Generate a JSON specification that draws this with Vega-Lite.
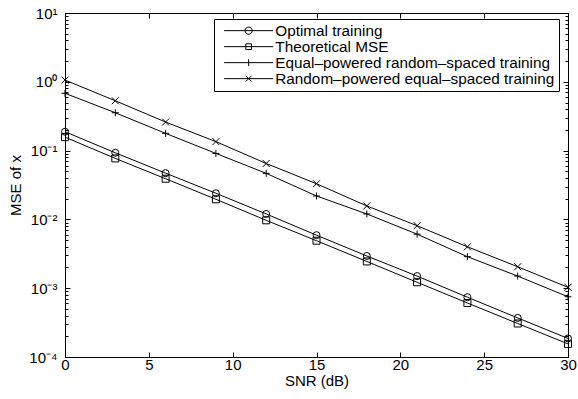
{
  "$schema": "https://vega.github.io/schema/vega-lite/v6.json",
  "width": 503,
  "height": 344,
  "autosize": {"type": "none"},
  "padding": {"left": 65, "top": 13, "right": 10, "bottom": 42},
  "background": "white",
  "config": {
    "font": "Liberation Sans",
    "view": {"stroke": "black", "strokeWidth": 1},
    "axis": {
      "grid": false,
      "domainColor": "black",
      "tickColor": "black",
      "labelColor": "black",
      "titleColor": "black",
      "labelFont": "Liberation Sans",
      "titleFont": "Liberation Sans",
      "labelFontSize": 15,
      "titleFontSize": 15,
      "titleFontWeight": "normal",
      "labelFlush": false,
      "labelOverlap": false
    },
    "legend": {
      "title": null,
      "orient": "none",
      "legendX": 149,
      "legendY": 6,
      "direction": "vertical",
      "strokeColor": "black",
      "fillColor": "white",
      "padding": 4,
      "cornerRadius": 0,
      "rowPadding": 0,
      "labelFont": "Liberation Sans",
      "labelFontSize": 15.3,
      "labelColor": "black",
      "labelLimit": 400,
      "labelOffset": 19,
      "symbolSize": 36,
      "symbolOffset": 23,
      "symbolStrokeColor": "black",
      "symbolStrokeWidth": 1,
      "symbolFillColor": "transparent"
    }
  },
  "data": {
    "values": [
      {"snr": 0, "mse": 0.188, "series": "Optimal training"},
      {"snr": 3, "mse": 0.093, "series": "Optimal training"},
      {"snr": 6, "mse": 0.047, "series": "Optimal training"},
      {"snr": 9, "mse": 0.024, "series": "Optimal training"},
      {"snr": 12, "mse": 0.012, "series": "Optimal training"},
      {"snr": 15, "mse": 0.0059, "series": "Optimal training"},
      {"snr": 18, "mse": 0.00294, "series": "Optimal training"},
      {"snr": 21, "mse": 0.0015, "series": "Optimal training"},
      {"snr": 24, "mse": 0.00074, "series": "Optimal training"},
      {"snr": 27, "mse": 0.00037, "series": "Optimal training"},
      {"snr": 30, "mse": 0.000186, "series": "Optimal training"},
      {"snr": 0, "mse": 0.157, "series": "Theoretical MSE"},
      {"snr": 3, "mse": 0.077, "series": "Theoretical MSE"},
      {"snr": 6, "mse": 0.039, "series": "Theoretical MSE"},
      {"snr": 9, "mse": 0.0196, "series": "Theoretical MSE"},
      {"snr": 12, "mse": 0.0097, "series": "Theoretical MSE"},
      {"snr": 15, "mse": 0.0049, "series": "Theoretical MSE"},
      {"snr": 18, "mse": 0.00245, "series": "Theoretical MSE"},
      {"snr": 21, "mse": 0.00122, "series": "Theoretical MSE"},
      {"snr": 24, "mse": 0.00061, "series": "Theoretical MSE"},
      {"snr": 27, "mse": 0.000307, "series": "Theoretical MSE"},
      {"snr": 30, "mse": 0.000155, "series": "Theoretical MSE"},
      {"snr": 0, "mse": 0.68, "series": "Equal–powered random–spaced training"},
      {"snr": 3, "mse": 0.355, "series": "Equal–powered random–spaced training"},
      {"snr": 6, "mse": 0.178, "series": "Equal–powered random–spaced training"},
      {"snr": 9, "mse": 0.091, "series": "Equal–powered random–spaced training"},
      {"snr": 12, "mse": 0.0467, "series": "Equal–powered random–spaced training"},
      {"snr": 15, "mse": 0.0219, "series": "Equal–powered random–spaced training"},
      {"snr": 18, "mse": 0.012, "series": "Equal–powered random–spaced training"},
      {"snr": 21, "mse": 0.0061, "series": "Equal–powered random–spaced training"},
      {"snr": 24, "mse": 0.00287, "series": "Equal–powered random–spaced training"},
      {"snr": 27, "mse": 0.0015, "series": "Equal–powered random–spaced training"},
      {"snr": 30, "mse": 0.00075, "series": "Equal–powered random–spaced training"},
      {"snr": 0, "mse": 1.06, "series": "Random–powered equal–spaced training"},
      {"snr": 3, "mse": 0.53, "series": "Random–powered equal–spaced training"},
      {"snr": 6, "mse": 0.26, "series": "Random–powered equal–spaced training"},
      {"snr": 9, "mse": 0.135, "series": "Random–powered equal–spaced training"},
      {"snr": 12, "mse": 0.065, "series": "Random–powered equal–spaced training"},
      {"snr": 15, "mse": 0.033, "series": "Random–powered equal–spaced training"},
      {"snr": 18, "mse": 0.0157, "series": "Random–powered equal–spaced training"},
      {"snr": 21, "mse": 0.0081, "series": "Random–powered equal–spaced training"},
      {"snr": 24, "mse": 0.004, "series": "Random–powered equal–spaced training"},
      {"snr": 27, "mse": 0.00205, "series": "Random–powered equal–spaced training"},
      {"snr": 30, "mse": 0.00103, "series": "Random–powered equal–spaced training"}
    ]
  },
  "resolve": {"axis": {"x": "independent", "y": "independent"}},
  "layer": [
    {
      "transform": [{"filter": {"field": "series", "equal": "Optimal training"}}],
      "mark": {"type": "line", "color": "black", "strokeWidth": 1},
      "encoding": {
        "x": {"field": "snr", "type": "quantitative", "scale": {"domain": [0, 30], "nice": false, "zero": false},
          "axis": {"orient": "bottom", "values": [0, 5, 10, 15, 20, 25, 30], "tickSize": -5, "labelPadding": 5, "title": "SNR (dB)", "titlePadding": 1}},
        "y": {"field": "mse", "type": "quantitative", "scale": {"type": "log", "domain": [0.0001, 10], "nice": false},
          "axis": {"orient": "left", "values": [0.0001, 0.001, 0.01, 0.1, 1, 10], "tickSize": -5, "labelPadding": 13, "title": "MSE of x", "titlePadding": 5,
            "labelExpr": "'10' + replace(replace(replace(replace(replace(replace('' + round(log(datum.value) / LN10), '-', '⁻'), '0', '⁰'), '1', '¹'), '2', '²'), '3', '³'), '4', '⁴')"}}
      }
    },
    {
      "transform": [{"filter": {"field": "series", "equal": "Theoretical MSE"}}],
      "mark": {"type": "line", "color": "black", "strokeWidth": 1},
      "encoding": {
        "x": {"field": "snr", "type": "quantitative", "scale": {"domain": [0, 30], "nice": false, "zero": false},
          "axis": {"orient": "top", "values": [0, 5, 10, 15, 20, 25, 30], "tickSize": -5, "labels": false, "title": null}},
        "y": {"field": "mse", "type": "quantitative", "scale": {"type": "log", "domain": [0.0001, 10], "nice": false},
          "axis": {"orient": "right", "values": [0.0001, 0.001, 0.01, 0.1, 1, 10], "tickSize": -5, "labels": false, "title": null}}
      }
    },
    {
      "transform": [{"filter": {"field": "series", "oneOf": ["Equal–powered random–spaced training", "Random–powered equal–spaced training"]}}],
      "mark": {"type": "line", "color": "black", "strokeWidth": 1},
      "encoding": {
        "x": {"field": "snr", "type": "quantitative", "scale": {"domain": [0, 30], "nice": false, "zero": false}, "axis": null},
        "y": {"field": "mse", "type": "quantitative", "scale": {"type": "log", "domain": [0.0001, 10], "nice": false},
          "axis": {"orient": "left", "domain": false, "labels": false, "title": null, "tickSize": -3,
            "values": [0.0002, 0.0003, 0.0004, 0.0005, 0.0006, 0.0007, 0.0008, 0.0009, 0.002, 0.003, 0.004, 0.005, 0.006, 0.007, 0.008, 0.009, 0.02, 0.03, 0.04, 0.05, 0.06, 0.07, 0.08, 0.09, 0.2, 0.3, 0.4, 0.5, 0.6, 0.7, 0.8, 0.9, 2, 3, 4, 5, 6, 7, 8, 9]}},
        "detail": {"field": "series"}
      }
    },
    {
      "mark": {"type": "point", "filled": false, "strokeWidth": 1, "opacity": 1, "size": 49},
      "encoding": {
        "x": {"field": "snr", "type": "quantitative", "scale": {"domain": [0, 30], "nice": false, "zero": false}, "axis": null},
        "y": {"field": "mse", "type": "quantitative", "scale": {"type": "log", "domain": [0.0001, 10], "nice": false},
          "axis": {"orient": "right", "domain": false, "labels": false, "title": null, "tickSize": -3,
            "values": [0.0002, 0.0003, 0.0004, 0.0005, 0.0006, 0.0007, 0.0008, 0.0009, 0.002, 0.003, 0.004, 0.005, 0.006, 0.007, 0.008, 0.009, 0.02, 0.03, 0.04, 0.05, 0.06, 0.07, 0.08, 0.09, 0.2, 0.3, 0.4, 0.5, 0.6, 0.7, 0.8, 0.9, 2, 3, 4, 5, 6, 7, 8, 9]}},
        "shape": {"field": "series", "type": "nominal", "legend": null,
          "scale": {"domain": ["Random–powered equal–spaced training", "Equal–powered random–spaced training", "Theoretical MSE", "Optimal training"],
            "range": ["M-1,-1L1,1M-1,1L1,-1", "M-1,0L1,0M0,-1L0,1", "square", "circle"]}},
        "stroke": {"field": "series", "type": "nominal",
          "scale": {"domain": ["Optimal training", "Theoretical MSE", "Equal–powered random–spaced training", "Random–powered equal–spaced training"],
            "range": ["black", "black", "black", "black"]},
          "legend": {
            "encoding": {"symbols": {
              "fill": {"value": "transparent"},
              "shape": {"value": {"expr": "datum.value === 'Optimal training' ? 'M-8.2,0L8.2,0M1.2,0L1.109,0.459L0.849,0.849L0.459,1.109L0,1.2L-0.459,1.109L-0.849,0.849L-1.109,0.459L-1.2,0L-1.109,-0.459L-0.849,-0.849L-0.459,-1.109L0,-1.2L0.459,-1.109L0.849,-0.849L1.109,-0.459Z' : datum.value === 'Theoretical MSE' ? 'M-8.2,0L8.2,0M-0.95,-0.95L0.95,-0.95L0.95,0.95L-0.95,0.95Z' : datum.value === 'Equal–powered random–spaced training' ? 'M-8.2,0L8.2,0M0,-1.15L0,1.15' : 'M-8.2,0L8.2,0M-0.95,-0.95L0.95,0.95M-0.95,0.95L0.95,-0.95'"}}}}}}
      }
    }
  ]
}
